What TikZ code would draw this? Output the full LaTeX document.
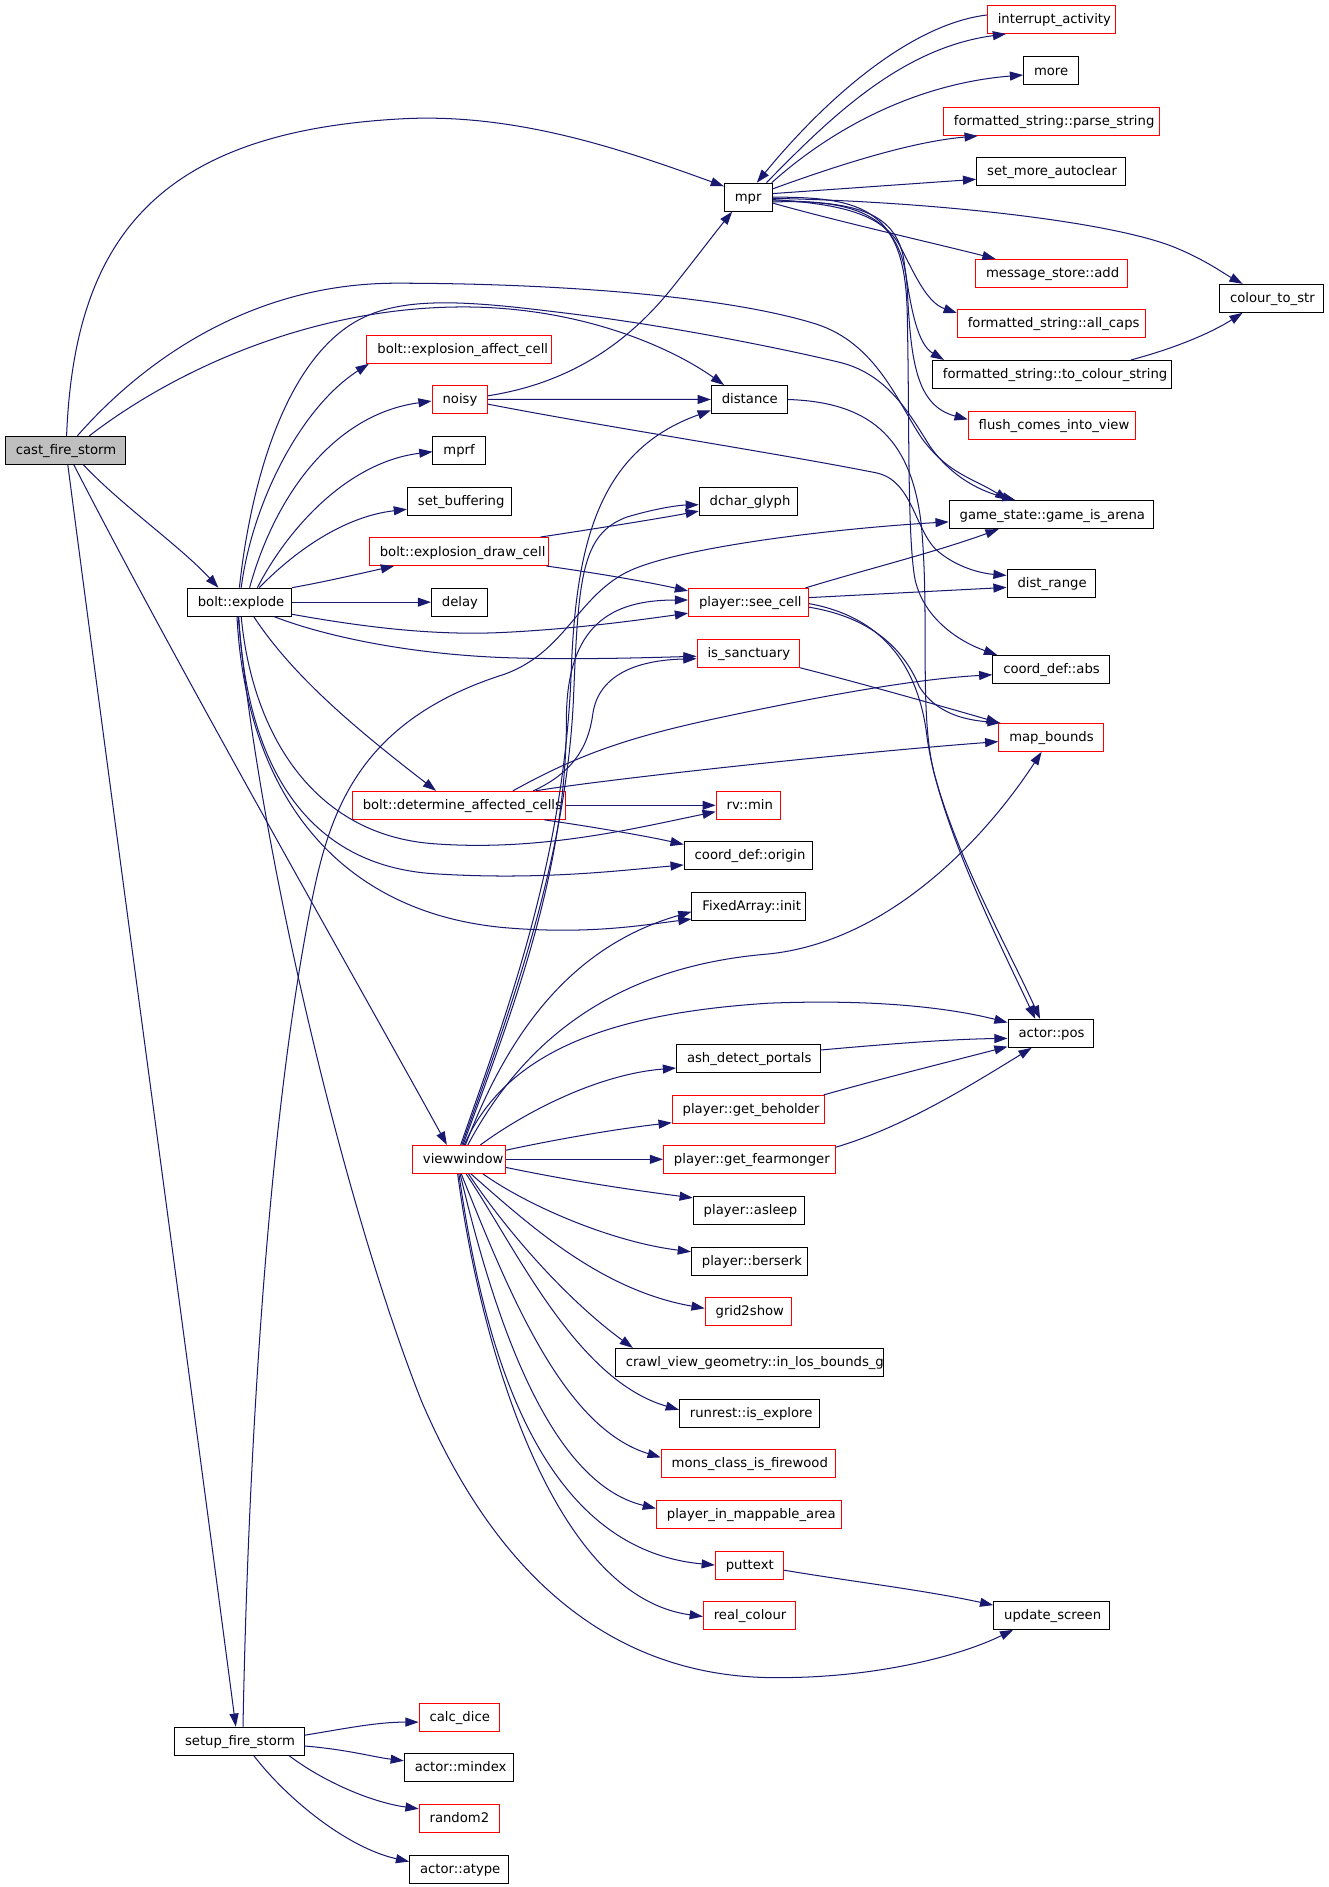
\documentclass[tikz,border=0pt]{standalone}
\usepackage{fontspec}
\newfontfamily\dvs{DejaVu Sans}
\usetikzlibrary{arrows.meta,calc}
\definecolor{edgec}{RGB}{25,25,112}
\definecolor{gfill}{RGB}{191,191,191}
\newcommand{\lab}[2]{\makebox[#1pt][l]{\hspace{8.7pt}#2}}
\begin{document}
\begin{tikzpicture}[x=1pt,y=-1pt,
  bx/.style={draw=black, line width=0.85pt, rectangle, inner sep=0pt, minimum height=23.3pt,
    text height=9pt, text depth=1.5pt, font=\dvs\fontsize{11}{13}\selectfont},
  rbx/.style={bx, draw=red},
  gbx/.style={bx, fill=gfill},
  e/.style={draw=edgec, line width=0.85pt, -{Triangle[length=11pt,width=7.5pt]}}]
\fill[white] (0,0) rectangle (1106.67,1572.5);
\useasboundingbox (0,0) rectangle (1106.67,1572.5);
% column 1-2
\node[gbx] (cast) at (54.5,375.2) {\lab{100}{cast\_fire\_storm}};
\node[bx] (bexp) at (199.5,501.8) {\lab{86.7}{bolt::explode}};
\node[bx] (setup) at (199.5,1451) {\lab{108}{setup\_fire\_storm}};
% column 3
\node[rbx] (affect) at (382.6,291.1) {\lab{153.6}{bolt::explosion\_affect\_cell}};
\node[rbx] (noisy) at (383.2,332.8) {\lab{46.2}{noisy}};
\node[bx] (mprf) at (382.6,375.2) {\lab{43.6}{mprf}};
\node[bx] (setbuf) at (382.9,417.9) {\lab{86.7}{set\_buffering}};
\node[rbx] (dcell) at (382.4,459.6) {\lab{149.2}{bolt::explosion\_draw\_cell}};
\node[bx] (delay) at (382.7,501.8) {\lab{46.3}{delay}};
\node[rbx] (det) at (382.4,671.1) {\lab{177.6}{bolt::determine\_affected\_cells}};
\node[rbx] (view) at (382.4,966.1) {\lab{77.3}{viewwindow}};
\node[rbx] (calc) at (382.8,1431.1) {\lab{67}{calc\_dice}};
\node[bx] (mindex) at (382.4,1472.8) {\lab{90.9}{actor::mindex}};
\node[rbx] (random2) at (382.8,1515.3) {\lab{67}{random2}};
\node[bx] (atype) at (382.4,1557.8) {\lab{82.1}{actor::atype}};
% column 4
\node[bx] (mpr) at (623.7,164.3) {\lab{40}{mpr}};
\node[bx] (distance) at (624.5,332.9) {\lab{63.4}{distance}};
\node[bx] (dchar) at (623.6,417.9) {\lab{81.7}{dchar\_glyph}};
\node[rbx] (seecell) at (623.8,502) {\lab{100}{player::see\_cell}};
\node[rbx] (issanc) at (623.6,544.4) {\lab{85.4}{is\_sanctuary}};
\node[rbx] (rvmin) at (623.7,671.1) {\lab{53.7}{rv::min}};
\node[bx] (origin) at (623.5,712.8) {\lab{106.6}{coord\_def::origin}};
\node[bx] (init) at (624,755.3) {\lab{94.7}{FixedArray::init}};
\node[bx] (ash) at (623.6,882) {\lab{119.6}{ash\_detect\_portals}};
\node[rbx] (behold) at (623.6,924.5) {\lab{126.8}{player::get\_beholder}};
\node[rbx] (fear) at (624.5,966.1) {\lab{143.1}{player::get\_fearmonger}};
\node[bx] (asleep) at (624.2,1008.6) {\lab{92.9}{player::asleep}};
\node[bx] (berserk) at (624.6,1051.1) {\lab{96.8}{player::berserk}};
\node[rbx] (grid) at (623.5,1092.8) {\lab{71.7}{grid2show}};
\node[bx] (crawl) at (624.6,1135.3) {\lab{223.6}{crawl\_view\_geometry::in\_los\_bounds\_g}};
\node[bx] (runrest) at (624.6,1177.8) {\lab{116.8}{runrest::is\_explore}};
\node[rbx] (mons) at (623.6,1219.5) {\lab{145.1}{mons\_class\_is\_firewood}};
\node[rbx] (mappable) at (624.2,1261.8) {\lab{154.3}{player\_in\_mappable\_area}};
\node[rbx] (puttext) at (624.6,1304.5) {\lab{57}{puttext}};
\node[rbx] (realc) at (624.6,1346.1) {\lab{76.9}{real\_colour}};
% column 5
\node[rbx] (interrupt) at (876.1,16.2) {\lab{106.6}{interrupt\_activity}};
\node[bx] (more) at (876,58.8) {\lab{46}{more}};
\node[rbx] (parse) at (876.2,101.2) {\lab{180}{formatted\_string::parse\_string}};
\node[bx] (smac) at (875.9,142.7) {\lab{124}{set\_more\_autoclear}};
\node[rbx] (msadd) at (876.3,227.8) {\lab{126.5}{message\_store::add}};
\node[rbx] (allcaps) at (876,269.4) {\lab{156.4}{formatted\_string::all\_caps}};
\node[bx] (tocs) at (876.5,312) {\lab{198.9}{formatted\_string::to\_colour\_string}};
\node[rbx] (flush) at (876.4,354.5) {\lab{139}{flush\_comes\_into\_view}};
\node[bx] (arena) at (876.2,428.9) {\lab{170.4}{game\_state::game\_is\_arena}};
\node[bx] (distr) at (876,486) {\lab{73.5}{dist\_range}};
\node[bx] (abs) at (876,557.8) {\lab{97.3}{coord\_def::abs}};
\node[rbx] (mapb) at (876,614.5) {\lab{87.3}{map\_bounds}};
\node[bx] (pos) at (875.7,861.1) {\lab{71.3}{actor::pos}};
\node[bx] (upd) at (876.3,1346.1) {\lab{96.4}{update\_screen}};
% column 6
\node[bx] (cts) at (1059.5,248.6) {\lab{86.4}{colour\_to\_str}};

% ---- edges from cast_fire_storm
\draw[e] ($(cast.north)+(1,0)$) .. controls (62,200) and (130,110) .. (335,99) .. controls (430,93.9) and (520,125) .. ($(mpr.north west)+(0,3)$);
\draw[e] ($(cast.north)+(20,0)$) .. controls (150,305) and (270,252) .. (400,256) .. controls (490,259) and (560,290) .. ($(distance.north west)+(11,0)$);
\draw[e] ($(cast.north)+(10,0)$) .. controls (120,300) and (210,236) .. (330,236) .. controls (450,236) and (600,245) .. (680,270) .. controls (730,286) and (748,335) .. (768,365) .. controls (790,395) and (810,398) .. ($(arena.north)+(-36,0)$);
\draw[e] ($(cast.south)+(15,0)$) .. controls (100,420) and (150,455) .. ($(bexp.north)+(-17.5,0)$);
\draw[e] ($(cast.south)+(7,0)$) .. controls (150,560) and (310,840) .. ($(view.north)+(-10,0)$);
\draw[e] ($(cast.south)+(2,0)$) .. controls (100,720) and (152,1100) .. ($(setup.north)+(-3,0)$);

% ---- mpr and its callees
\draw[e] ($(interrupt.west)+(0,-3.7)$) .. controls (760,20) and (690,80) .. ($(mpr.north)+(7,0)$);
\draw[e] ($(mpr.north)+(15,0)$) .. controls (690,100) and (750,40) .. ($(interrupt.south west)+(16,0)$);
\draw[e] ($(mpr.north east)+(-1,0)$) .. controls (690,110) and (760,70) .. ($(more.west)+(0,3.7)$);
\draw[e] ($(mpr.east)+(0,-7)$) .. controls (700,137) and (760,118) .. ($(parse.south west)+(29,0)$);
\draw[e] ($(mpr.east)+(0,-3)$) -- ($(smac.west)+(0,6.7)$);
\draw[e] ($(mpr.east)+(0,1)$) .. controls (780,168) and (930,185) .. (981,207) .. controls (1005,217) and (1020,228) .. ($(cts.north)+(-24,0)$);
\draw[e] ($(mpr.east)+(0,5)$) .. controls (700,185) and (780,203) .. ($(msadd.north west)+(17,0)$);
\draw[e] ($(mpr.east)+(0,2)$) .. controls (700,170) and (735,178) .. (750,205) .. controls (762,228) and (772,252) .. ($(allcaps.north west)+(0,3.5)$);
\draw[e] ($(mpr.east)+(0,3)$) .. controls (710,168) and (745,175) .. (753,215) .. controls (759,260) and (765,287) .. ($(tocs.north west)+(10,0)$);
\draw[e] ($(mpr.east)+(0,4)$) .. controls (715,166) and (752,180) .. (756,240) .. controls (759,300) and (763,338) .. ($(flush.west)+(0,-5)$);
\draw[e] (mpr.east) .. controls (720,164) and (754,175) .. (756,260) .. controls (758,350) and (756,440) .. (762,480) .. controls (768,515) and (800,535) .. ($(abs.north west)+(4,0)$);
\draw[e] ($(tocs.north)+(66,0)$) .. controls (980,290) and (1010,277) .. ($(cts.south)+(-24,0)$);

% ---- distance, see_cell, noisy
\draw[e] (distance.east) .. controls (720,335) and (760,360) .. (768,440) .. controls (775,520) and (765,600) .. (780,650) .. controls (800,720) and (840,790) .. ($(pos.north)+(-9,0)$);
\draw[e] ($(seecell.east)+(0,1)$) .. controls (740,515) and (765,560) .. (772,610) .. controls (780,680) and (830,780) .. ($(pos.north)+(-13,0)$);
\draw[e] ($(seecell.east)+(0,4)$) .. controls (730,515) and (755,545) .. (766,572) .. controls (780,595) and (805,600) .. ($(mapb.north west)+(2,0)$);
\draw[e] ($(seecell.north east)+(-3,0)$) .. controls (720,475) and (780,460) .. ($(arena.south)+(-44,0)$);
\draw[e] ($(seecell.east)+(0,-4)$) -- ($(distr.west)+(0,3.5)$);
\draw[e] ($(noisy.east)+(0,4)$) .. controls (500,355) and (650,378) .. (730,394) .. controls (760,400) and (762,440) .. (780,458) .. controls (798,474) and (820,478) .. ($(distr.west)+(0,-6.5)$);
\draw[e] (noisy.east) -- (distance.west);
\draw[e] ($(noisy.east)+(0,-3)$) .. controls (470,320) and (520,290) .. (560,240) .. controls (580,215) and (595,195) .. ($(mpr.south)+(-13.5,0)$);

% ---- bolt::explode
\draw[e] (bexp.north) .. controls (208,410) and (235,300) .. (300,266) .. controls (340,245) and (400,252) .. (480,262) .. controls (560,272) and (650,290) .. (700,302) .. controls (740,312) and (758,345) .. (775,372) .. controls (795,400) and (820,410) .. ($(arena.north)+(-30,0)$);
\draw[e] ($(bexp.north)+(1.5,0)$) .. controls (210,420) and (250,340) .. ($(affect.south west)+(2,0)$);
\draw[e] ($(bexp.north)+(8.5,0)$) .. controls (230,410) and (280,345) .. ($(noisy.west)+(0,1.4)$);
\draw[e] ($(bexp.north)+(15,0)$) .. controls (240,440) and (290,385) .. ($(mprf.west)+(0,1.2)$);
\draw[e] ($(bexp.north)+(16.5,0)$) .. controls (250,455) and (290,430) .. ($(setbuf.west)+(0,6.5)$);
\draw[e] (bexp.north east) .. controls (270,485) and (300,478) .. ($(dcell.south west)+(21,0)$);
\draw[e] (bexp.east) -- (delay.west);
\draw[e] ($(bexp.south east)+(0,-2)$) .. controls (300,522) and (360,530) .. (420,527) .. controls (480,524) and (530,517) .. ($(seecell.west)+(0,9)$);
\draw[e] ($(bexp.south)+(29,0)$) .. controls (270,530) and (340,545) .. (420,548) .. controls (480,550) and (540,548) .. ($(issanc.west)+(0,2.5)$);
\draw[e] ($(bexp.south)+(12,0)$) .. controls (245,565) and (300,610) .. ($(det.north)+(-19,0)$);
\draw[e] ($(bexp.south)+(1.5,0)$) .. controls (210,610) and (260,695) .. (360,703) .. controls (450,710) and (530,690) .. ($(rvmin.west)+(0,5.3)$);
\draw[e] ($(bexp.south)+(-0.5,0)$) .. controls (205,630) and (250,720) .. (360,728) .. controls (450,734) and (520,725) .. ($(origin.west)+(0,8)$);
\draw[e] ($(bexp.south)+(-2,0)$) .. controls (205,660) and (280,760) .. (420,773) .. controls (490,779) and (535,771) .. ($(init.south west)+(0,-1.5)$);
\draw[e] ($(bexp.south)+(-1,0)$) .. controls (215,700) and (285,1000) .. (351,1167) .. controls (395,1270) and (480,1400) .. (650,1398) .. controls (730,1398) and (800,1380) .. ($(upd.south)+(-32,0)$);

% ---- determine_affected_cells, draw_cell, is_sanctuary
\draw[e] (det.east) -- (rvmin.west);
\draw[e] ($(det.south east)+(-18,0)$) .. controls (500,690) and (540,697) .. ($(origin.north west)+(0,3)$);
\draw[e] ($(det.north)+(45,0)$) .. controls (480,630) and (520,615) .. (600,598) .. controls (680,581) and (760,566) .. ($(abs.west)+(0,4.5)$);
\draw[e] ($(det.north)+(64,0)$) .. controls (500,650) and (700,628) .. ($(mapb.west)+(0,3.5)$);
\draw[e] ($(det.north)+(62,0)$) .. controls (475,645) and (490,625) .. (494,595) .. controls (499,560) and (535,550) .. ($(issanc.west)+(0,4.5)$);
\draw[e] ($(dcell.north east)+(-7,0)$) .. controls (500,440) and (550,432) .. ($(dchar.west)+(0,8)$);
\draw[e] ($(dcell.south east)+(-2,0)$) .. controls (500,478) and (540,485) .. ($(seecell.north west)+(0,2.5)$);
\draw[e] (issanc.south east) .. controls (720,570) and (790,590) .. ($(mapb.north west)+(1,0)$);

% ---- viewwindow
\draw[e] ($(view.north)+(1.5,0)$) .. controls (420,850) and (470,720) .. (476,560) .. controls (480,450) and (500,375) .. ($(distance.south west)+(0,-3)$);
\draw[e] ($(view.north)+(2.5,0)$) .. controls (422,850) and (472,720) .. (478,580) .. controls (482,480) and (485,445) .. (522,431) .. controls (545,424) and (565,421) .. ($(dchar.west)+(0,2.7)$);
\draw[e] ($(view.north)+(3.5,0)$) .. controls (424,850) and (472,730) .. (472,600) .. controls (472,520) and (510,500) .. ($(seecell.west)+(0,-2)$);
\draw[e] ($(view.north)+(5.5,0)$) .. controls (420,870) and (470,790) .. ($(init.west)+(0,4.5)$);
\draw[e] ($(view.north)+(7.5,0)$) .. controls (440,860) and (520,805) .. (640,795) .. controls (740,785) and (820,700) .. ($(mapb.south)+(-8,0)$);
\draw[e] ($(view.north)+(4.5,0)$) .. controls (420,880) and (500,845) .. (640,836) .. controls (740,832) and (800,842) .. ($(pos.west)+(0,-9)$);
\draw[e] ($(view.north)+(18,0)$) .. controls (440,925) and (500,895) .. ($(ash.west)+(0,8)$);
\draw[e] ($(view.north east)+(0,4.5)$) .. controls (470,948) and (520,940) .. ($(behold.south west)+(0,-1)$);
\draw[e] (view.east) -- (fear.west);
\draw[e] ($(view.east)+(0,6.7)$) .. controls (480,985) and (530,992) .. ($(asleep.north west)+(0,1.7)$);
\draw[e] ($(view.south)+(20,0)$) .. controls (440,1005) and (510,1035) .. ($(berserk.west)+(0,-8)$);
\draw[e] ($(view.south)+(10,0)$) .. controls (440,1020) and (500,1075) .. ($(grid.west)+(0,-2.5)$);
\draw[e] ($(view.south)+(8,0)$) .. controls (425,1030) and (475,1085) .. ($(crawl.north west)+(15,0)$);
\draw[e] ($(view.south)+(6,0)$) .. controls (430,1040) and (480,1150) .. ($(runrest.west)+(0,-3)$);
\draw[e] ($(view.south)+(2,0)$) .. controls (425,1080) and (470,1190) .. ($(mons.west)+(0,-5)$);
\draw[e] ($(view.south)+(1,0)$) .. controls (410,1090) and (455,1235) .. ($(mappable.west)+(0,-4.8)$);
\draw[e] (view.south) .. controls (400,1100) and (440,1290) .. ($(puttext.west)+(0,-0.3)$);
\draw[e] ($(view.south)+(-1,0)$) .. controls (400,1120) and (460,1330) .. ($(realc.west)+(0,1)$);

% ---- callers of actor::pos, update_screen
\draw[e] ($(ash.east)+(0,-7)$) .. controls (740,870) and (790,866) .. ($(pos.west)+(0,4.2)$);
\draw[e] ($(behold.north east)+(-1,0)$) .. controls (730,900) and (790,885) .. ($(pos.south west)+(0,-1)$);
\draw[e] ($(fear.north east)+(0,2)$) .. controls (750,940) and (800,910) .. ($(pos.south)+(-16,0)$);
\draw[e] ($(puttext.east)+(0,4)$) .. controls (710,1318) and (770,1325) .. ($(upd.west)+(0,-8.5)$);

% ---- setup_fire_storm
\draw[e] ($(setup.north)+(3,0)$) .. controls (206,1250) and (220,950) .. (260,750) .. controls (275,675) and (300,600) .. (420,562) .. controls (470,544) and (480,500) .. (520,478) .. controls (560,456) and (700,440) .. ($(arena.west)+(0,6)$);
\draw[e] ($(setup.east)+(0,-5)$) .. controls (290,1440) and (315,1435) .. ($(calc.west)+(0,4)$);
\draw[e] ($(setup.east)+(0,4)$) .. controls (290,1458) and (310,1464) .. ($(mindex.west)+(0,-5.5)$);
\draw[e] ($(setup.south east)+(-13,0)$) .. controls (270,1485) and (310,1502) .. ($(random2.west)+(0,-8)$);
\draw[e] ($(setup.south)+(12,0)$) .. controls (240,1500) and (290,1540) .. ($(atype.west)+(0,-6.5)$);
\end{tikzpicture}
\end{document}
